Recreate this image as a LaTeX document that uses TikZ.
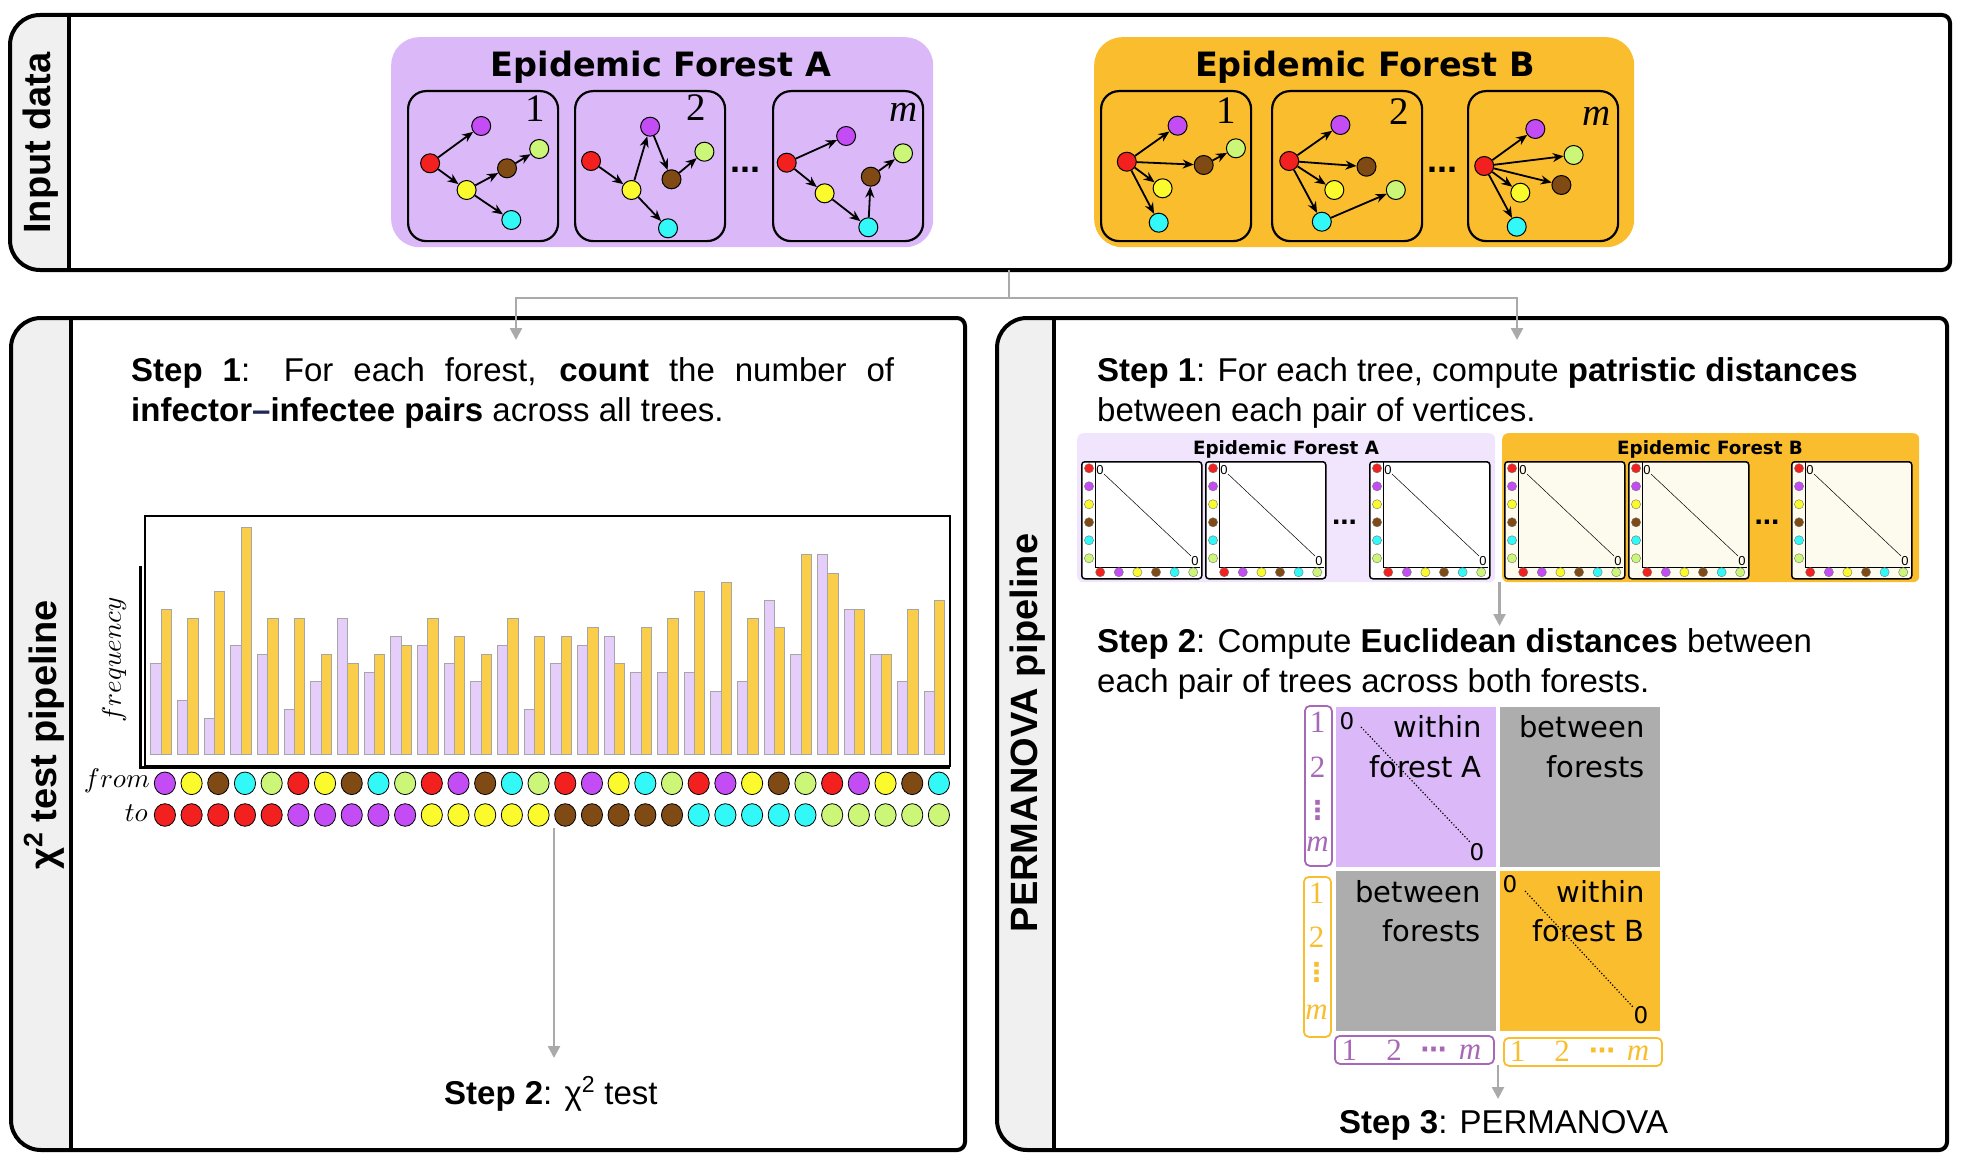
\documentclass[tikz,border=0pt]{standalone}
\usepackage[no-math]{fontspec}
\DeclareFontShape{OML}{cmm}{m}{it}{<->cmmi10}{}
\DeclareFontShape{OT1}{cmr}{m}{n}{<->cmr10}{}
\DeclareFontShape{OMS}{cmsy}{m}{n}{<->cmsy10}{}
\setmainfont{Liberation Sans}
\newfontfamily\titlefont{DejaVu Sans}
\newfontfamily\numfont{Liberation Serif}
\usetikzlibrary{arrows.meta}
\definecolor{cR}{RGB}{243,32,32}
\definecolor{cP}{RGB}{196,76,245}
\definecolor{cY}{RGB}{250,250,45}
\definecolor{cB}{RGB}{128,74,20}
\definecolor{cC}{RGB}{50,248,248}
\definecolor{cG}{RGB}{204,246,120}
\definecolor{lav}{RGB}{219,185,248}
\definecolor{org}{RGB}{249,189,46}
\definecolor{lavlt}{RGB}{241,229,253}
\definecolor{cream}{RGB}{253,250,238}
\definecolor{tabg}{RGB}{240,240,240}
\definecolor{blkg}{RGB}{173,173,173}
\definecolor{lblp}{RGB}{168,104,184}
\definecolor{lblo}{RGB}{248,190,48}
\definecolor{cong}{RGB}{170,170,170}
\definecolor{barp}{RGB}{230,206,250}
\definecolor{baro}{RGB}{250,205,75}
\definecolor{navy}{RGB}{30,40,90}
\newcommand{\fsz}[1]{\fontsize{#1}{#1}\selectfont}
\newcommand{\mypanel}[5]{%
  \begin{scope}
    \clip (#1-5,#2-5) rectangle (#5,#4+5);
    \fill[tabg, rounded corners=30pt] (#1,#2) rectangle (#5+60,#4);
  \end{scope}
  \draw[line width=4pt, rounded corners=30pt] (#5+40,#2) -- (#1,#2) -- (#1,#4) -- (#5+40,#4);
  \draw[line width=4pt, rounded corners=8pt] (#5+40,#2) -- (#3,#2) -- (#3,#4) -- (#5+40,#4);
  \draw[line width=4pt] (#5,#2) -- (#5,#4);
}
\newcommand{\pmat}[3]{%
  \node[draw, line width=1.5pt, rounded corners=3pt, fill=#2, minimum width=120, minimum height=117, anchor=north west, inner sep=0] (#3) at (#1,461) {};
  \draw[line width=0.8pt] (#1+14.3,462) -- (#1+14.3,567) -- (#1+119,567);
  \foreach \c/\k in {cR/0,cP/1,cY/2,cB/3,cC/4,cG/5}{
    \filldraw[fill=\c, draw=black!55, line width=0.4pt] (#1+8,468.3+18*\k) circle (4.6);
    \filldraw[fill=\c, draw=black!55, line width=0.4pt] (#1+19.2+18.6*\k,572.2) circle (4.6);
  }
  \node[font=\fsz{13}, inner sep=0] (#3-z1) at (#1+19,470) {0};
  \node[font=\fsz{13}, inner sep=0] (#3-z2) at (#1+114,561) {0};
  \draw[line width=0.5pt] (#1+23,474) -- (#1+110,556);
}
\tikzset{
  tn/.style={circle, draw=black, line width=1pt, fill=#1, minimum size=19, inner sep=0},
  ed/.style={-{Stealth[length=11pt,width=9pt]}, line width=1.8pt},
  treebox/.style={draw, line width=2.2pt, rounded corners=18pt, minimum width=150, minimum height=150, anchor=north west, inner sep=0},
  numlbl/.style={font=\numfont\fsz{39}, inner sep=0},
  gcon/.style={draw=cong, line width=2.5pt},
  garr/.style={gcon, -{Triangle[length=12pt,width=12pt]}},
  steptxt/.style={anchor=base west, inner sep=0, font=\fsz{33}},
  blk/.style={minimum width=160, minimum height=160, anchor=north west, inner sep=0},
  blktxt/.style={anchor=base east, inner sep=0, font=\titlefont\fsz{29}},
  zer/.style={inner sep=0, font=\titlefont\fsz{23}},
  tablbl/.style={rotate=90, font=\bfseries\fsz{38}, inner sep=0},
  dots/.style={font=\bfseries\fsz{36}, inner sep=0},
  idx/.style={inner sep=0, font=\numfont\fsz{31}},
  idxd/.style={inner sep=0, font=\titlefont\bfseries\fsz{26}},
}
\begin{document}
\begin{tikzpicture}[x=1pt,y=-1pt]
\useasboundingbox (0,0) rectangle (1961,1161);
% panels
\mypanel{10}{15}{1950}{270}{69}
\mypanel{11}{318}{965}{1150}{71}
\mypanel{997}{318}{1947}{1150}{1054}
\node[tablbl] (lbl-in) at (41,143) {Input data};
\node[tablbl] (lbl-chi) at (44,735) {χ\textsuperscript{2} test pipeline};
\node[tablbl] (lbl-perm) at (1028,733) {PERMANOVA pipeline};

% forests
\node[fill=lav, rounded corners=28pt, minimum width=542, minimum height=210, anchor=north west, inner sep=0] (fa) at (391,37) {};
\node[fill=org, rounded corners=28pt, minimum width=540, minimum height=210, anchor=north west, inner sep=0] (fb) at (1094,37) {};
\node[anchor=base, inner sep=0, font=\titlefont\bfseries\fsz{33.5}] (fat) at (661,77) {Epidemic Forest A};
\node[anchor=base, inner sep=0, font=\titlefont\bfseries\fsz{33.5}] (fbt) at (1365,77) {Epidemic Forest B};
\node[treebox] (ta1) at (407,90) {};
\node[treebox] (ta2) at (574,90) {};
\node[treebox] (ta3) at (772,90) {};
\node[treebox] (tb1) at (1100,90) {};
\node[treebox] (tb2) at (1271,90) {};
\node[treebox] (tb3) at (1467,90) {};
\node[numlbl] (na1) at (535,109) {1};
\node[numlbl] (na2) at (696.5,107.5) {2};
\node[numlbl] (na3) at (904,112.5) {\itshape m};
\node[numlbl] (nb1) at (1226,111) {1};
\node[numlbl] (nb2) at (1399,112) {2};
\node[numlbl] (nb3) at (1597,116.5) {\itshape m};
\node[dots] (da) at (745,170) {...};
\node[dots] (db) at (1442,170) {...};

% tree A1
\node[tn=cP] (a1p) at (481.2,126) {};
\node[tn=cR] (a1r) at (430.1,163.3) {};
\node[tn=cY] (a1y) at (466.6,190) {};
\node[tn=cB] (a1b) at (507,168.3) {};
\node[tn=cG] (a1g) at (539.2,149) {};
\node[tn=cC] (a1c) at (511.3,220) {};
\draw[ed] (a1r) -- (a1p); \draw[ed] (a1r) -- (a1y); \draw[ed] (a1y) -- (a1b);
\draw[ed] (a1b) -- (a1g); \draw[ed] (a1y) -- (a1c);
% tree A2
\node[tn=cP] (a2p) at (650.1,126.7) {};
\node[tn=cR] (a2r) at (591,161) {};
\node[tn=cY] (a2y) at (631.5,190) {};
\node[tn=cB] (a2b) at (671.5,179.3) {};
\node[tn=cG] (a2g) at (704.4,151.7) {};
\node[tn=cC] (a2c) at (668,228.3) {};
\draw[ed] (a2r) -- (a2y); \draw[ed] (a2y) -- (a2p); \draw[ed] (a2p) -- (a2b);
\draw[ed] (a2b) -- (a2g); \draw[ed] (a2y) -- (a2c);
% tree A3
\node[tn=cP] (a3p) at (846.1,136) {};
\node[tn=cR] (a3r) at (786.7,162.7) {};
\node[tn=cY] (a3y) at (824.6,193.3) {};
\node[tn=cC] (a3c) at (868.3,227.3) {};
\node[tn=cB] (a3b) at (870.8,176.7) {};
\node[tn=cG] (a3g) at (903,153.3) {};
\draw[ed] (a3r) -- (a3p); \draw[ed] (a3r) -- (a3y); \draw[ed] (a3y) -- (a3c);
\draw[ed] (a3c) -- (a3b); \draw[ed] (a3b) -- (a3g);
% tree B1
\node[tn=cP] (b1p) at (1177.6,125.7) {};
\node[tn=cR] (b1r) at (1126.8,161.7) {};
\node[tn=cB] (b1b) at (1203.7,165) {};
\node[tn=cG] (b1g) at (1235.9,148.3) {};
\node[tn=cY] (b1y) at (1162.6,188.3) {};
\node[tn=cC] (b1c) at (1158.7,222.7) {};
\draw[ed] (b1r) -- (b1p); \draw[ed] (b1r) -- (b1b); \draw[ed] (b1b) -- (b1g);
\draw[ed] (b1r) -- (b1y); \draw[ed] (b1r) -- (b1c);
% tree B2
\node[tn=cP] (b2p) at (1340.4,125) {};
\node[tn=cR] (b2r) at (1289.2,161) {};
\node[tn=cB] (b2b) at (1366.5,166.7) {};
\node[tn=cY] (b2y) at (1334.3,190) {};
\node[tn=cC] (b2c) at (1321.8,221.7) {};
\node[tn=cG] (b2g) at (1395.8,190) {};
\draw[ed] (b2r) -- (b2p); \draw[ed] (b2r) -- (b2b); \draw[ed] (b2r) -- (b2y);
\draw[ed] (b2r) -- (b2c); \draw[ed] (b2c) -- (b2g);
% tree B3
\node[tn=cP] (b3p) at (1535.3,129) {};
\node[tn=cR] (b3r) at (1484.2,166) {};
\node[tn=cG] (b3g) at (1573.6,155) {};
\node[tn=cB] (b3b) at (1561.4,185) {};
\node[tn=cY] (b3y) at (1520.3,192.7) {};
\node[tn=cC] (b3c) at (1516.7,226.7) {};
\draw[ed] (b3r) -- (b3p); \draw[ed] (b3r) -- (b3g); \draw[ed] (b3r) -- (b3b);
\draw[ed] (b3r) -- (b3y); \draw[ed] (b3r) -- (b3c);

% top connector
\coordinate (topbot) at (1009,270);
\coordinate (split) at (1009,298);
\coordinate (inL) at (516,340);
\coordinate (inR) at (1517,340);
\draw[gcon] (topbot) -- (split);
\draw[garr] (split) -| (inL);
\draw[garr] (split) -| (inR);

% ---- left panel
\node[steptxt] (s1la) at (131,381.6) {\makebox[763pt][s]{\textbf{Step 1}: For each forest, \textbf{count} the number of}};
\node[steptxt] (s1lb) at (131,421.6) {\textbf{infector}\textcolor{navy}{\textbf{–}}\textbf{infectee pairs} across all trees.};
\draw[line width=1.2pt] (145,516) rectangle (950,766);
\draw[line width=3pt] (140,566) -- (140,767) -- (950,767);
\foreach \p/\o [count=\i from 0] in {10/16,6/15,4/18,12/25,11/15,5/15,8/11,15/10,9/11,13/12,12/15,10/13,8/11,12/15,5/13,10/13,12/14,13/10,9/14,9/15,9/18,7/19,8/15,17/14,11/22,22/20,16/16,11/11,8/16,7/17}{
  \filldraw[fill=barp, draw=black!35, line width=0.6pt] (150.6+26.67*\i,754.3) rectangle ++(10.3,-\p*9.07);
  \filldraw[fill=baro, draw=black!35, line width=0.6pt] (160.9+26.67*\i,754.3) rectangle ++(10.3,-\o*9.07);
}
\foreach \c [count=\i from 0] in {cP,cY,cB,cC,cG,cR,cY,cB,cC,cG,cR,cP,cB,cC,cG,cR,cP,cY,cC,cG,cR,cP,cY,cB,cG,cR,cP,cY,cB,cC}{
  \filldraw[fill=\c, draw=black, line width=0.8pt] (164.9+26.69*\i,783.3) ellipse (10.6 and 11.3);
}
\foreach \c [count=\i from 0] in {cR,cR,cR,cR,cR,cP,cP,cP,cP,cP,cY,cY,cY,cY,cY,cB,cB,cB,cB,cB,cC,cC,cC,cC,cC,cG,cG,cG,cG,cG}{
  \filldraw[fill=\c, draw=black, line width=0.8pt] (164.9+26.69*\i,815) ellipse (10.6 and 11.3);
}
\node[anchor=east, inner sep=0, font=\fsz{27}] (from) at (150,781) {$from$};
\node[anchor=east, inner sep=0, font=\fsz{27}] (to) at (148,813) {$to$};
\node[rotate=90, inner sep=0, font=\fsz{27}] (freq) at (114,660) {$frequency$};
\coordinate (chbot) at (554,828);
\coordinate (chend) at (554,1058);
\draw[garr] (chbot) -- (chend);
\node[steptxt] (s2l) at (444,1104.6) {\textbf{Step 2}: χ\textsuperscript{2} test};

% ---- right panel
\node[steptxt] (s1ra) at (1097,381.6) {\textbf{Step 1}: For each tree, compute \textbf{patristic distances}};
\node[steptxt] (s1rb) at (1097,421.6) {between each pair of vertices.};
\node[fill=lavlt, rounded corners=6pt, minimum width=418, minimum height=149, anchor=north west, inner sep=0] (ra) at (1077,433) {};
\node[fill=org, rounded corners=6pt, minimum width=417, minimum height=149, anchor=north west, inner sep=0] (rb) at (1502,433) {};
\node[anchor=base, inner sep=0, font=\titlefont\bfseries\fsz{18.3}] (rat) at (1286,454) {Epidemic Forest A};
\node[anchor=base, inner sep=0, font=\titlefont\bfseries\fsz{18.3}] (rbt) at (1710,454) {Epidemic Forest B};
\pmat{1081}{white}{ma1}
\pmat{1205}{white}{ma2}
\pmat{1369}{white}{ma3}
\pmat{1504}{cream}{mb1}
\pmat{1628}{cream}{mb2}
\pmat{1791}{cream}{mb3}
\node[font=\bfseries\fsz{30}, inner sep=0] (dma) at (1344.5,522) {...};
\node[font=\bfseries\fsz{30}, inner sep=0] (dmb) at (1767,522) {...};
\coordinate (m2top) at (1499.5,582);
\coordinate (m2end) at (1499.5,626);
\draw[garr] (m2top) -- (m2end);
\node[steptxt] (s2ra) at (1097,652) {\textbf{Step 2}: Compute \textbf{Euclidean distances} between};
\node[steptxt] (s2rb) at (1097,692) {each pair of trees across both forests.};

% big matrix
\node[blk, fill=lav] (btl) at (1336,707) {};
\node[blk, fill=blkg] (btr) at (1500,707) {};
\node[blk, fill=blkg] (bbl) at (1336,871) {};
\node[blk, fill=org] (bbr) at (1500,871) {};
\draw[dotted, line width=1.2pt] (1361,727) -- (1470,842);
\draw[dotted, line width=1.2pt] (1525,891) -- (1633,1007);
\node[zer] (z1) at (1347,721) {0};
\node[zer] (z2) at (1477,852) {0};
\node[zer] (z3) at (1510,884) {0};
\node[zer] (z4) at (1641,1015) {0};
\node[blktxt] (t1a) at (1482,737) {within};
\node[blktxt] (t1b) at (1482,777) {forest A};
\node[blktxt] (t2a) at (1645,737) {between};
\node[blktxt] (t2b) at (1645,777) {forests};
\node[blktxt] (t3a) at (1481,902) {between};
\node[blktxt] (t3b) at (1481,941) {forests};
\node[blktxt] (t4a) at (1645,902) {within};
\node[blktxt] (t4b) at (1645,941) {forest B};
% index boxes
\node[draw=lblp, line width=1.8pt, rounded corners=5pt, minimum width=27, minimum height=160, anchor=north west, inner sep=0] (lp) at (1304,705) {};
\node[draw=lblo, line width=1.8pt, rounded corners=5pt, minimum width=27, minimum height=160, anchor=north west, inner sep=0] (lo) at (1303,876) {};
\node[draw=lblp, line width=1.8pt, rounded corners=5pt, minimum width=159, minimum height=28, anchor=north west, inner sep=0] (bp) at (1334,1035) {};
\node[draw=lblo, line width=1.8pt, rounded corners=5pt, minimum width=158, minimum height=28, anchor=north west, inner sep=0] (bo) at (1503,1037) {};
\node[idx, text=lblp] (lp1) at (1317.5,722) {1};
\node[idx, text=lblp] (lp2) at (1317.5,767) {2};
\node[idxd, text=lblp] (lp3) at (1317.5,810) {⋮};
\node[idx, text=lblp] (lp4) at (1317.5,844) {\itshape m};
\node[idx, text=lblo] (lo1) at (1316.5,893) {1};
\node[idx, text=lblo] (lo2) at (1316.5,937) {2};
\node[idxd, text=lblo] (lo3) at (1316.5,972) {⋮};
\node[idx, text=lblo] (lo4) at (1316.5,1012) {\itshape m};
\node[idx, text=lblp] (bp1) at (1349.4,1050) {1};
\node[idx, text=lblp] (bp2) at (1394,1050) {2};
\node[idxd, text=lblp] (bp3) at (1433.6,1053) {⋯};
\node[idx, text=lblp] (bp4) at (1470,1052) {\itshape m};
\node[idx, text=lblo] (bo1) at (1517.7,1051) {1};
\node[idx, text=lblo] (bo2) at (1562,1051) {2};
\node[idxd, text=lblo] (bo3) at (1602,1054) {⋯};
\node[idx, text=lblo] (bo4) at (1638,1053) {\itshape m};
\coordinate (m3top) at (1498,1065);
\coordinate (m3end) at (1498,1099);
\draw[garr] (m3top) -- (m3end);
\node[steptxt] (s3) at (1339,1133) {\textbf{Step 3}: PERMANOVA};
\end{tikzpicture}
\end{document}
